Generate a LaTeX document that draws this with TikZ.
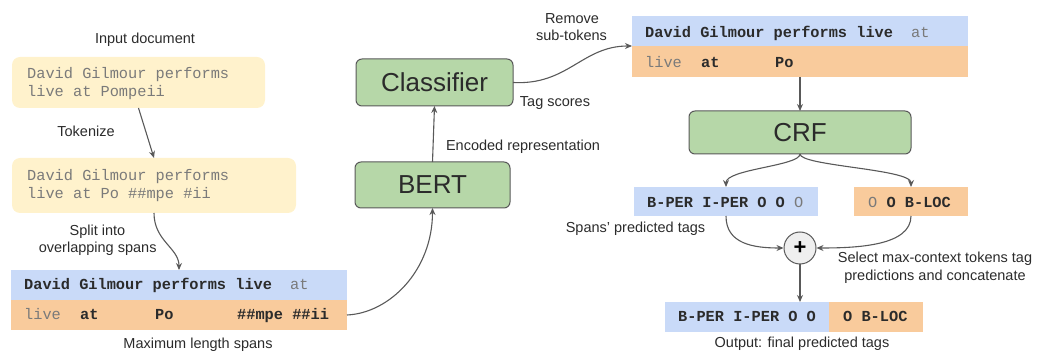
\documentclass[tikz,border=0pt]{standalone}
\usepackage{fontspec}
\setmainfont{Liberation Sans}
\setmonofont{Liberation Mono}
\usetikzlibrary{arrows.meta}
\definecolor{ylw}{HTML}{FFF2CC}
\definecolor{blu}{HTML}{C9DAF8}
\definecolor{org}{HTML}{F9CB9C}
\definecolor{grn}{HTML}{B6D7A8}
\definecolor{edgec}{HTML}{595959}
\definecolor{txt}{HTML}{2B2B2B}
\definecolor{mgray}{HTML}{7A7A7A}
\definecolor{pgray}{HTML}{EFEFEF}
\begin{document}
\begin{tikzpicture}[x=1pt,y=-1pt,
  lbl/.style={font=\fontsize{14.5}{18}\selectfont, text=txt, inner sep=0pt, anchor=base},
  big/.style={font=\fontsize{26}{30}\selectfont, text=txt, inner sep=0pt},
  mono/.style={font=\fontsize{15.3}{19}\selectfont\ttfamily, inner sep=0pt, anchor=base west},
  mb/.style={mono, font=\fontsize{15.3}{19}\selectfont\ttfamily\bfseries, text=txt},
  mg/.style={mono, text=mgray},
  ybox/.style={fill=ylw, rounded corners=8pt, inner sep=0pt, outer sep=0pt},
  row/.style={inner sep=0pt, outer sep=0pt},
  gbox/.style={fill=grn, draw=edgec, line width=1pt, rounded corners=6pt, inner sep=0pt, outer sep=0pt},
  arr/.style={draw=edgec, line width=1.1pt, -{Stealth[length=7pt,width=6pt]}},
]
\useasboundingbox (0,0) rectangle (1037,352);

% input boxes
\node[lbl] (lin) at (145,44) {Input document};
\node[ybox, minimum width=253pt, minimum height=51pt] (in1) at (138.5,82.5) {};
\node[mg] (in1a) at (27,79) {David Gilmour performs};
\node[mg] (in1b) at (27,97) {live at Pompeii};
\node[lbl] (ltok) at (86,137) {Tokenize};
\node[ybox, minimum width=284pt, minimum height=55pt] (in2) at (154,185.5) {};
\node[mg] (in2a) at (27,181) {David Gilmour performs};
\node[mg] (in2b) at (27,199) {live at Po \#\#mpe \#ii};
\node[lbl] (lsp1) at (97.5,236) {Split into};
\node[lbl] (lsp2) at (97.7,253) {overlapping spans};

% spans
\node[row, fill=blu, minimum width=336pt, minimum height=30pt] (span1) at (179,285) {};
\node[row, fill=org, minimum width=336pt, minimum height=30pt] (span2) at (179,315) {};
\node[mb] (s1a) at (24,290) {David Gilmour performs live};
\node[mg] (s1b) at (290,290) {at};
\node[mg] (s2a) at (24,320) {live};
\node[mb] (s2b) at (80,320) {at};
\node[mb] (s2c) at (155,320) {Po};
\node[mb] (s2d) at (237,320) {\#\#mpe \#\#ii};
\node[lbl] (lmax) at (198,349) {Maximum length spans};

% BERT / classifier
\node[gbox, minimum width=155pt, minimum height=46pt] (bert) at (432.5,185) {};
\node[big] (bertt) at (bert.center) {BERT};
\node[gbox, minimum width=157pt, minimum height=47pt] (cls) at (434.5,82.5) {};
\node[big] (clst) at (cls.center) {Classifier};
\node[lbl] (lenc) at (523,151) {Encoded representation};
\node[lbl] (ltag) at (555,106.5) {Tag scores};
\node[lbl] (lrem1) at (572,23.5) {Remove};
\node[lbl] (lrem2) at (571.5,40.5) {sub-tokens};

% top right
\node[row, fill=blu, minimum width=336pt, minimum height=30pt] (tr1) at (800,31) {};
\node[row, fill=org, minimum width=336pt, minimum height=31pt] (tr2) at (800,61.5) {};
\node[mb] (t1a) at (645,37.5) {David Gilmour performs live};
\node[mg] (t1b) at (911,37.5) {at};
\node[mg] (t2a) at (645,67.5) {live};
\node[mb] (t2b) at (701,67.5) {at};
\node[mb] (t2c) at (775,67.5) {Po};

\node[gbox, minimum width=222pt, minimum height=43pt] (crf) at (800,132.5) {};
\node[big] (crft) at (crf.center) {CRF};

% tag boxes
\node[row, fill=blu, minimum width=184pt, minimum height=29pt] (lt) at (726,201.5) {};
\node[row, fill=org, minimum width=114pt, minimum height=29pt] (rt) at (911,201.5) {};
\node[mb] (ltt) at (647,207.5) {B-PER I-PER O O \textcolor{mgray}{\mdseries O}};
\node[mb] (rtt) at (868,207.5) {\textcolor{mgray}{\mdseries O} O B-LOC};
\node[lbl] (lspans) at (635.5,233) {Spans' predicted tags};

\node[circle, fill=pgray, draw=edgec, line width=1pt, minimum size=32pt, inner sep=0pt,
      font=\fontsize{22}{22}\selectfont\bfseries, text=black] (plus) at (800,248) {+};
\node[lbl] (lsel1) at (935,263) {Select max-context tokens tag};
\node[lbl] (lsel2) at (935,281) {predictions and concatenate};

% output
\node[row, fill=blu, minimum width=164pt, minimum height=30pt] (ob) at (747,317) {};
\node[row, fill=org, minimum width=94pt, minimum height=30pt] (oo) at (876,317) {};
\node[mb] (obt) at (678,321.5) {B-PER I-PER O O};
\node[mb] (oot) at (843,321.5) {O B-LOC};
\node[lbl] (lout) at (802,347.5) {Output: final predicted tags};

% connectors
\draw[arr] (in1.south) -- (in2.north);
\draw[arr] (in2.south) .. controls +(0,28) and +(0,-22) .. (span1.north);
\draw[arr] (span2.east) .. controls +(43,-2) and +(0,62) .. (bert.south);
\draw[arr] (bert.north) -- (cls.south);
\draw[arr] (cls.east) .. controls +(55,3) and +(-50,0) .. (tr1.south west);
\draw[arr] (tr2.south) -- (crf.north);
\draw[arr] (crf.south) .. controls +(0,12) and +(0,-18) .. (lt.north);
\draw[arr] (crf.south) .. controls +(0,12) and +(0,-18) .. (rt.north);
\draw[arr] (lt.south) .. controls +(0,28) and +(-30,0) .. (plus.west);
\draw[arr] (rt.south) .. controls +(0,30) and +(40,0) .. (plus.east);
\draw[arr] (plus.south) -- (plus.south |- ob.north);
\end{tikzpicture}
\end{document}
